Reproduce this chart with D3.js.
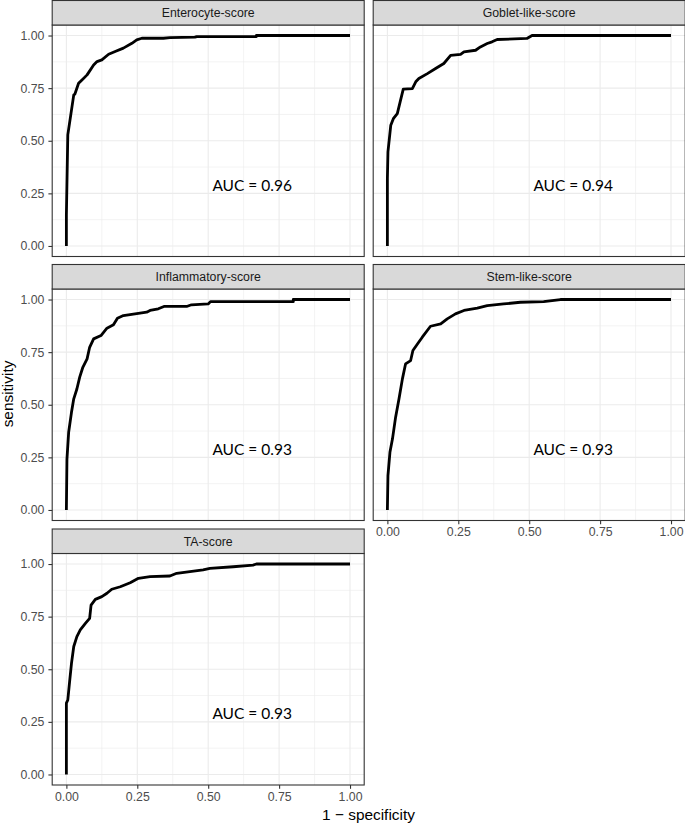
<!DOCTYPE html>
<html><head><meta charset="utf-8">
<script src="https://cdn.jsdelivr.net/npm/d3@7"></script>
<style>body{margin:0;background:#fff}svg{display:block}</style>
</head><body>
<script>
const panelNames = ["Enterocyte-score","Goblet-like-score","Inflammatory-score","Stem-like-score","TA-score"];
const aucLabels = ["AUC = 0.96","AUC = 0.94","AUC = 0.93","AUC = 0.93","AUC = 0.93"];
const tickValues = [0, 0.25, 0.5, 0.75, 1];
const tickLabels = ["0.00","0.25","0.50","0.75","1.00"];

const enterocyteFpr = [0,0,0.005,0.026,0.030,0.043,0.055,0.073,0.096,0.108,0.125,0.149,0.172,0.201,0.231,0.248,0.266,0.342,0.365,0.453,0.46,0.67,0.67,1];
const enterocyteTpr = [0,0.147,0.528,0.718,0.722,0.773,0.789,0.813,0.860,0.876,0.884,0.911,0.924,0.940,0.963,0.979,0.987,0.987,0.990,0.992,0.995,0.995,1,1];

const gobletFpr = [0,0,0.002,0.012,0.021,0.035,0.045,0.056,0.088,0.1,0.111,0.141,0.17,0.199,0.223,0.258,0.27,0.311,0.328,0.352,0.369,0.387,0.492,0.51,1];
const gobletTpr = [0,0.32,0.447,0.574,0.605,0.629,0.685,0.745,0.748,0.78,0.796,0.819,0.843,0.867,0.906,0.91,0.922,0.930,0.946,0.962,0.97,0.981,0.986,1,1];

const inflamFpr = [0,0.002,0.008,0.018,0.026,0.037,0.047,0.058,0.073,0.082,0.096,0.122,0.143,0.166,0.18,0.201,0.242,0.283,0.295,0.324,0.344,0.424,0.441,0.5,0.508,0.8,0.8,1];
const inflamTpr = [0,0.242,0.369,0.464,0.528,0.575,0.631,0.678,0.718,0.773,0.813,0.829,0.864,0.880,0.911,0.924,0.932,0.94,0.948,0.956,0.967,0.967,0.975,0.979,0.99,0.99,1,1];

const stemFpr = [0,0.002,0.009,0.018,0.029,0.041,0.053,0.064,0.082,0.09,0.106,0.123,0.152,0.188,0.211,0.24,0.27,0.317,0.352,0.41,0.469,0.551,0.61,1];
const stemTpr = [0,0.163,0.274,0.338,0.441,0.528,0.623,0.694,0.710,0.758,0.789,0.821,0.873,0.884,0.908,0.932,0.948,0.959,0.971,0.979,0.987,0.990,1,1];

const taFpr = [0,0,0.005,0.012,0.018,0.026,0.037,0.049,0.067,0.082,0.087,0.102,0.125,0.143,0.16,0.19,0.225,0.254,0.295,0.365,0.389,0.482,0.506,0.588,0.658,0.67,1];
const taTpr = [0,0.339,0.354,0.449,0.528,0.608,0.655,0.687,0.718,0.742,0.805,0.832,0.845,0.861,0.880,0.892,0.911,0.932,0.940,0.943,0.956,0.972,0.979,0.987,0.995,1,1];

const fprs = [enterocyteFpr, gobletFpr, inflamFpr, stemFpr, taFpr];
const tprs = [enterocyteTpr, gobletTpr, inflamTpr, stemTpr, taTpr];

const W = 685, H = 824;
const svg = d3.select("body").append("svg").attr("width", W).attr("height", H);

const colLeft = [52.2, 373.2];
const rowTop = [0.5, 264.5, 529];
const panelW = 312, stripH = 24.5, panelH = 231.5;
const sans = "'Liberation Sans', Arial, Helvetica, sans-serif";

panelNames.forEach((name, i) => {
  const col = i % 2, row = Math.floor(i / 2);
  const px = colLeft[col], sy = rowTop[row], py = sy + stripH;
  const x = d3.scaleLinear().domain([-0.05, 1.05]).range([px, px + panelW]);
  const y = d3.scaleLinear().domain([-0.05, 1.05]).range([py + panelH, py]);
  const g = svg.append("g");

  // minor grid
  const minor = [0.125, 0.375, 0.625, 0.875];
  g.selectAll(".mx").data(minor).join("line")
    .attr("x1", d => x(d)).attr("x2", d => x(d)).attr("y1", py).attr("y2", py + panelH)
    .attr("stroke", "#ebebeb").attr("stroke-width", 0.6);
  g.selectAll(".my").data(minor).join("line")
    .attr("y1", d => y(d)).attr("y2", d => y(d)).attr("x1", px).attr("x2", px + panelW)
    .attr("stroke", "#ebebeb").attr("stroke-width", 0.6);
  // major grid
  g.selectAll(".Mx").data(tickValues).join("line")
    .attr("x1", d => x(d)).attr("x2", d => x(d)).attr("y1", py).attr("y2", py + panelH)
    .attr("stroke", "#ebebeb").attr("stroke-width", 1.1);
  g.selectAll(".My").data(tickValues).join("line")
    .attr("y1", d => y(d)).attr("y2", d => y(d)).attr("x1", px).attr("x2", px + panelW)
    .attr("stroke", "#ebebeb").attr("stroke-width", 1.1);

  // curve
  const pts = fprs[i].map((f, k) => [f, tprs[i][k]]);
  g.append("path").datum(pts)
    .attr("d", d3.line().x(d => x(d[0])).y(d => y(d[1])))
    .attr("fill", "none").attr("stroke", "#000").attr("stroke-width", 2.8)
    .attr("stroke-linejoin", "round").attr("stroke-linecap", "butt");

  // AUC label
  g.append("text").attr("x", x(0.655)).attr("y", y(0.29)).attr("dy", "0.36em")
    .attr("text-anchor", "middle").attr("font-family", "Lato, 'Open Sans', sans-serif")
    .attr("font-size", 15.5).attr("fill", "#000").text(aucLabels[i]);

  // panel border
  g.append("rect").attr("x", px).attr("y", py).attr("width", panelW).attr("height", panelH)
    .attr("fill", "none").attr("stroke", "#333333").attr("stroke-width", 1.1);

  // strip
  g.append("rect").attr("x", px).attr("y", sy).attr("width", panelW).attr("height", stripH)
    .attr("fill", "#d9d9d9").attr("stroke", "#333333").attr("stroke-width", 1.1);
  g.append("text").attr("x", px + panelW / 2).attr("y", sy + stripH / 2).attr("dy", "0.36em")
    .attr("text-anchor", "middle").attr("font-family", sans).attr("font-size", 12.3)
    .attr("fill", "#1a1a1a").text(name);

  // y axis (left column only)
  if (col === 0) {
    const ya = d3.axisLeft(y).tickValues(tickValues).tickFormat((d, k) => tickLabels[k]).tickSize(3.8).tickPadding(4);
    const ag = g.append("g").attr("transform", `translate(${px},0)`).call(ya);
    ag.select(".domain").remove();
    ag.selectAll("line").attr("stroke", "#333333").attr("stroke-width", 1.1);
    ag.selectAll("text").attr("font-family", sans).attr("font-size", 12.3).attr("fill", "#4d4d4d");
  }
  // x axis (bottom panel of each column)
  if (i === 3 || i === 4) {
    const xa = d3.axisBottom(x).tickValues(tickValues).tickFormat((d, k) => tickLabels[k]).tickSize(3.8).tickPadding(3);
    const ag = g.append("g").attr("transform", `translate(0,${py + panelH})`).call(xa);
    ag.select(".domain").remove();
    ag.selectAll("line").attr("stroke", "#333333").attr("stroke-width", 1.1);
    ag.selectAll("text").attr("font-family", sans).attr("font-size", 12.3).attr("fill", "#4d4d4d");
  }
});

// axis titles
svg.append("text").attr("x", 368.5).attr("y", 820).attr("text-anchor", "middle")
  .attr("font-family", sans).attr("font-size", 15.4).attr("fill", "#000").text("1 − specificity");
svg.append("text").attr("transform", "translate(13,394) rotate(-90)").attr("text-anchor", "middle")
  .attr("font-family", sans).attr("font-size", 15.4).attr("fill", "#000").text("sensitivity");
</script>
</body></html>
